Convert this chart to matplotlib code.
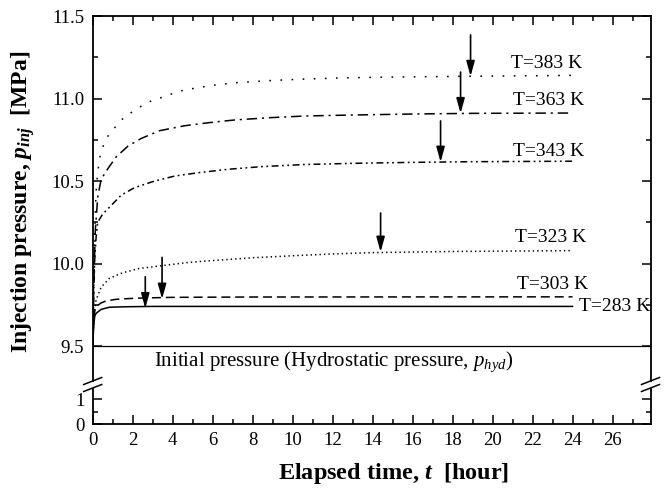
import numpy as np
import matplotlib
matplotlib.use("Agg")
import matplotlib.pyplot as plt
from matplotlib.ticker import MultipleLocator, FormatStrFormatter
from matplotlib.lines import Line2D

plt.rcParams["font.family"] = ["Liberation Serif", "DejaVu Serif"]
plt.rcParams["mathtext.fontset"] = "custom"
plt.rcParams["mathtext.rm"] = "Liberation Serif"
plt.rcParams["mathtext.it"] = "Liberation Serif:italic"
plt.rcParams["mathtext.bf"] = "Liberation Serif:bold"
plt.rcParams["mathtext.bfit"] = "Liberation Serif:italic:bold"
plt.rcParams["lines.scale_dashes"] = False

# elapsed time [hour] and injection pressure [MPa]
t383 = [0, 0.05, 0.13, 0.17, 0.25, 0.33, 0.48, 0.75, 1.15, 1.6, 2.2, 2.7, 3.3, 4.35, 5.0, 6.0, 7.1, 8.8, 10.4, 12.5, 15, 19, 24]
p383 = [9.5, 9.95, 10.30, 10.44, 10.55, 10.63, 10.70, 10.77, 10.83, 10.89, 10.935, 10.975, 11.0, 11.045, 11.06, 11.08,
        11.095, 11.108, 11.117, 11.125, 11.13, 11.135, 11.14]
t363 = [0, 0.05, 0.13, 0.25, 0.42, 0.77, 1.18, 1.77, 2.43, 3.35, 4.6, 5.77, 7.1, 8.9, 10.6, 13, 16, 19, 24]
p363 = [9.5, 9.85, 10.2, 10.40, 10.51, 10.577, 10.647, 10.712, 10.758, 10.805, 10.835, 10.853, 10.87, 10.884, 10.894,
        10.90, 10.906, 10.91, 10.912]
t343 = [0, 0.05, 0.1, 0.17, 0.25, 0.5, 0.87, 1.43, 2.1, 3.1, 4.1, 5.27, 6.77, 8.43, 10.6, 13, 16, 19, 24]
p343 = [9.5, 9.8, 10.02, 10.16, 10.25, 10.30, 10.345, 10.415, 10.46, 10.50, 10.53, 10.55, 10.571, 10.587, 10.60,
        10.607, 10.613, 10.617, 10.62]
t323 = [0, 0.05, 0.1, 0.17, 0.42, 0.83, 1.5, 2.33, 3.33, 4.67, 5.67, 8, 10, 12, 14, 18, 24]
p323 = [9.5, 9.65, 9.72, 9.78, 9.856, 9.91, 9.944, 9.97, 9.985, 10.005, 10.015, 10.035, 10.047, 10.058, 10.066, 10.073, 10.078]
t303 = [0, 0.05, 0.1, 0.17, 0.4, 0.67, 1.17, 2.17, 4, 8, 24]
p303 = [9.5, 9.66, 9.71, 9.738, 9.76, 9.773, 9.783, 9.79, 9.795, 9.797, 9.798]
t283 = [0, 0.05, 0.1, 0.17, 0.42, 0.83, 1.67, 3, 24]
p283 = [9.5, 9.62, 9.68, 9.698, 9.722, 9.735, 9.738, 9.74, 9.74]
p_hyd = 9.5

labels = ["T=383 K", "T=363 K", "T=343 K", "T=323 K", "T=303 K", "T=283 K"]
# arrow markers: time, tail pressure, head pressure
arrow_t = [18.9, 18.4, 17.4, 14.4, 3.47, 2.63]
arrow_tail = [11.385, 11.16, 10.864, 10.306, 10.037, 9.92]
arrow_head = [11.135, 10.91, 10.615, 10.07, 9.785, 9.728]
label_t = [20.9, 21.0, 21.0, 21.1, 21.2, 24.3]
label_p = [11.215, 10.99, 10.676, 10.16, 9.87, 9.742]

series = [(t383, p383, (0, (1.2, 6.8))),
          (t363, p363, (0, (7.5, 3.5, 1.5, 3.5))),
          (t343, p343, (0, (5, 2.5, 1.3, 2.5, 1.3, 2.5))),
          (t323, p323, (0, (1, 2.2))),
          (t303, p303, (0, (6.5, 3.5))),
          (t283, p283, "-")]

fig = plt.figure(figsize=(6.64, 4.9), dpi=100)
W, H = 664, 490
left, right = 92.7 / W, 650.5 / W
ax = fig.add_axes([left, 1 - 381 / H, right - left, (381 - 16) / H])
ax2 = fig.add_axes([left, 1 - 424 / H, right - left, (424 - 389) / H])

for (t, p, ls) in series:
    ax.plot(t, p, color="k", lw=1.1, linestyle=ls)
ax.axhline(p_hyd, color="k", lw=0.9)

for i in range(len(labels)):
    ax.annotate("", xy=(arrow_t[i], arrow_head[i]), xytext=(arrow_t[i], arrow_tail[i]),
                arrowprops=dict(arrowstyle="-|>,head_length=0.9,head_width=0.25", color="k", lw=1.2,
                                shrinkA=0, shrinkB=0, mutation_scale=10))
    ax.text(label_t[i], label_p[i], labels[i], fontsize=14, va="center", ha="left")

ax.text(3.07, 9.403, r"Initial pressure (Hydrostatic pressure, $p_{hyd}$)", fontsize=15, va="center")

ax.set_xlim(0, 27.9)
ax2.set_xlim(0, 27.9)
ax.set_ylim(9.288, 11.5)
ax2.set_ylim(0, 1.4)

ax.yaxis.set_major_locator(MultipleLocator(0.5))
ax.yaxis.set_minor_locator(MultipleLocator(0.25))
ax.yaxis.set_major_formatter(FormatStrFormatter("%.1f"))
ax2.yaxis.set_major_locator(MultipleLocator(1))
ax2.yaxis.set_minor_locator(MultipleLocator(0.5))
for a in (ax, ax2):
    a.xaxis.set_major_locator(MultipleLocator(2))
    a.xaxis.set_minor_locator(MultipleLocator(1))
    a.tick_params(which="both", direction="in", right=True, top=True, labelsize=13.5, width=1.1, pad=6)
    a.tick_params(which="major", length=6.5)
    a.tick_params(which="minor", length=3.5)
    for s in a.spines.values():
        s.set_linewidth(1.3)

ax.spines["bottom"].set_visible(False)
ax.tick_params(axis="x", which="both", bottom=False, labelbottom=False)
ax2.spines["top"].set_visible(False)
ax2.tick_params(axis="x", which="both", top=False)
ax2.set_xticks(np.arange(0, 27, 2))

ax.set_ylabel(r"Injection pressure, $\mathbfit{p}_{\mathbfit{inj}}$  [MPa]", fontsize=17, fontweight="bold")
ax.yaxis.set_label_coords(-0.10, 0.49)
ax2.set_xlabel(r"Elapsed time, $\mathbfit{t}$  [hour]", fontsize=17.5, fontweight="bold")
ax2.xaxis.set_label_coords(0.54, -1.05)

# break marks on both side spines
for xa in (0, 1):
    for ya in (381, 388):
        yf = 1 - ya / H
        xf = left if xa == 0 else right
        fig.add_artist(Line2D([xf - 9 / W, xf + 9 / W], [yf - 3.5 / H, yf + 3.5 / H], color="k", lw=1.1))

fig.savefig("out.png", dpi=100)
